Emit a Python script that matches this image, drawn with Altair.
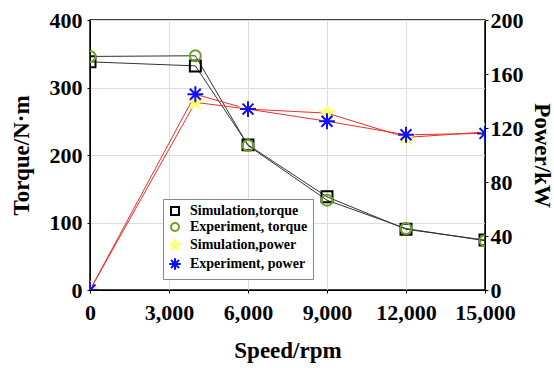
import altair as alt
import pandas as pd

speed = [0, 4000, 6000, 9000, 12000, 15000]
sim_torque = [338, 332, 215, 138, 90, 74]
exp_torque = [346, 347, 214, 133, 91, 73]
sim_power = [0, 139, 134, 131, 113, 117]
exp_power = [0, 145, 134, 125, 115, 116]

series_names = ["Simulation,torque", "Experiment, torque", "Simulation,power", "Experiment, power"]
x_ticks = [0, 3000, 6000, 9000, 12000, 15000]
torque_ticks = [0, 100, 200, 300, 400]
power_ticks = [0, 40, 80, 120, 160, 200]

rows = []
for name, vals, kind in [
    (series_names[0], sim_torque, "torque"),
    (series_names[1], exp_torque, "torque"),
    (series_names[2], sim_power, "power"),
    (series_names[3], exp_power, "power"),
]:
    for s, v in zip(speed, vals):
        rows.append({"series": name, "speed": s, "value": v, "kind": kind})
df = pd.DataFrame(rows)

# custom symbols (unit path scaled up so they appear larger than the square)
STAR = ("M0,-1.3L0.306,-0.421L1.236,-0.402L0.494,0.161L0.764,1.052L0,0.52"
        "L-0.764,1.052L-0.494,0.161L-1.236,-0.402L-0.306,-0.421Z")
AST = "M-1.45,0L1.45,0M0,-1.45L0,1.45M-1,-1L1,1M-1,1L1,-1"

FONT = "Liberation Serif"

shape_enc = alt.Shape("series:N", sort=series_names,
                      scale=alt.Scale(domain=series_names,
                                      range=["square", "circle", STAR, AST]),
                      legend=alt.Legend(title=None))
stroke_enc = alt.Stroke("series:N", sort=series_names,
                        scale=alt.Scale(domain=series_names,
                                        range=["#000000", "#6aa121", "#ffff70", "#1010ff"]),
                        legend=alt.Legend(title=None))
fill_enc = alt.Fill("series:N", sort=series_names,
                    scale=alt.Scale(domain=series_names,
                                    range=["transparent", "transparent", "#ffff70", "transparent"]),
                    legend=alt.Legend(title=None))

common_axis = dict(labelFont=FONT, labelFontSize=22, labelFontWeight="bold",
                   titleFont=FONT, titleFontSize=23, titleFontWeight="bold",
                   tickSize=3, tickColor="black", domainColor="black",
                   labelColor="black", titleColor="black", labelFlush=False)

x_enc = alt.X("speed:Q", title="Speed/rpm",
              scale=alt.Scale(domain=[0, 15000], nice=False),
              axis=alt.Axis(values=x_ticks, format=",d", labelOverlap=False,
                            labelPadding=9, titlePadding=16,
                            gridColor="#dcdcdc", **common_axis))

base = alt.Chart(df)

torque = base.transform_filter(alt.datum.kind == "torque")
t_line = torque.mark_line(strokeWidth=1, clip=True, color="#333333").encode(
    x=x_enc,
    y=alt.Y("value:Q", title="Torque/N·m",
            scale=alt.Scale(domain=[0, 400], nice=False),
            axis=alt.Axis(values=torque_ticks, orient="left", labelPadding=5,
                          titlePadding=16, gridColor="#dcdcdc", **common_axis)),
    detail="series:N",
)
t_pts = torque.mark_point(strokeWidth=2, opacity=1, size=120, clip=True).encode(
    x="speed:Q", y="value:Q",
    shape=shape_enc, stroke=stroke_enc, fill=fill_enc,
)

power = base.transform_filter(alt.datum.kind == "power")
p_line = power.mark_line(strokeWidth=1, clip=True, color="#e8302a").encode(
    x="speed:Q",
    y=alt.Y("value:Q", title="Power/kW",
            scale=alt.Scale(domain=[0, 200], nice=False),
            axis=alt.Axis(values=power_ticks, orient="right", grid=False,
                          labelPadding=2, titlePadding=6, **common_axis)),
    detail="series:N",
)
p_pts = power.mark_point(strokeWidth=2, opacity=1, size=120, clip=True).encode(
    x="speed:Q", y="value:Q",
    shape=shape_enc, stroke=stroke_enc, fill=fill_enc,
)

left = alt.layer(t_line, t_pts)
right = alt.layer(p_line, p_pts)

chart = alt.layer(left, right).resolve_scale(y="independent").properties(
    width=395, height=270,
    autosize=alt.AutoSizeParams(type="none"),
    padding={"left": 90, "top": 20, "right": 69, "bottom": 78},
).configure_view(
    stroke="black", strokeWidth=1.5
).configure_legend(
    orient="none", legendX=73, legendY=179,
    fillColor="white", strokeColor="#888888", padding=5,
    labelFont=FONT, labelFontSize=14, labelFontWeight="bold", labelColor="black",
    symbolStrokeWidth=2, symbolSize=64, rowPadding=0, labelOffset=8,
)

chart.save("out.html", embed_options={"renderer": "svg", "actions": False})
